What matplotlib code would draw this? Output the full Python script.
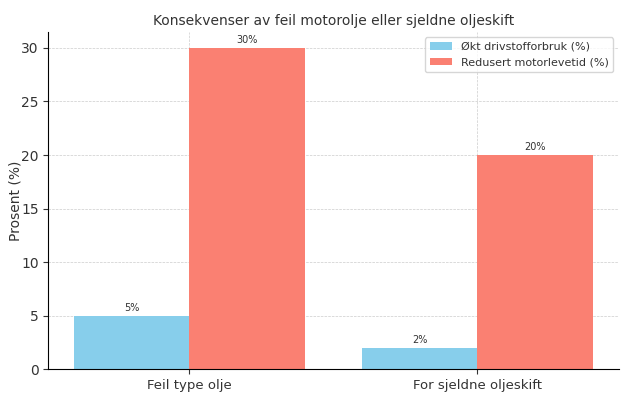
import numpy as np
import matplotlib.pyplot as plt

categories = ["Feil type olje", "For sjeldne oljeskift"]
fuel_use = [5, 2]
engine_life = [30, 20]
series_names = ["Økt drivstofforbruk (%)", "Redusert motorlevetid (%)"]

plt.rcParams['text.color'] = '#333333'
plt.rcParams['axes.labelcolor'] = '#333333'
plt.rcParams['xtick.color'] = '#333333'
plt.rcParams['ytick.color'] = '#333333'

fig, ax = plt.subplots(figsize=(6.28, 3.99), dpi=100)
x = np.arange(len(categories))
width = 0.4

b1 = ax.bar(x - width / 2, fuel_use, width, color='skyblue', label=series_names[0])
b2 = ax.bar(x + width / 2, engine_life, width, color='salmon', label=series_names[1])

for bars in (b1, b2):
    for bar in bars:
        h = bar.get_height()
        ax.annotate(f"{h:.0f}%", (bar.get_x() + bar.get_width() / 2, h),
                    xytext=(0, 2), textcoords='offset points',
                    ha='center', va='bottom', fontsize=7)

ax.set_xticks(x)
ax.set_xticklabels(categories, fontsize=9.5)
ax.tick_params(axis='y', labelsize=10)
ax.set_ylabel("Prosent (%)", fontsize=10, labelpad=-1)
ax.set_title("Konsekvenser av feil motorolje eller sjeldne oljeskift", fontsize=10, pad=5)
ax.grid(True, linestyle='--', linewidth=0.5, color='#cccccc')
ax.set_axisbelow(True)
ax.spines['top'].set_visible(False)
ax.spines['right'].set_visible(False)
ax.legend(loc='upper right', fontsize=8)

fig.subplots_adjust(left=0.077, right=0.985, top=0.92, bottom=0.075)
fig.savefig("out.png")
